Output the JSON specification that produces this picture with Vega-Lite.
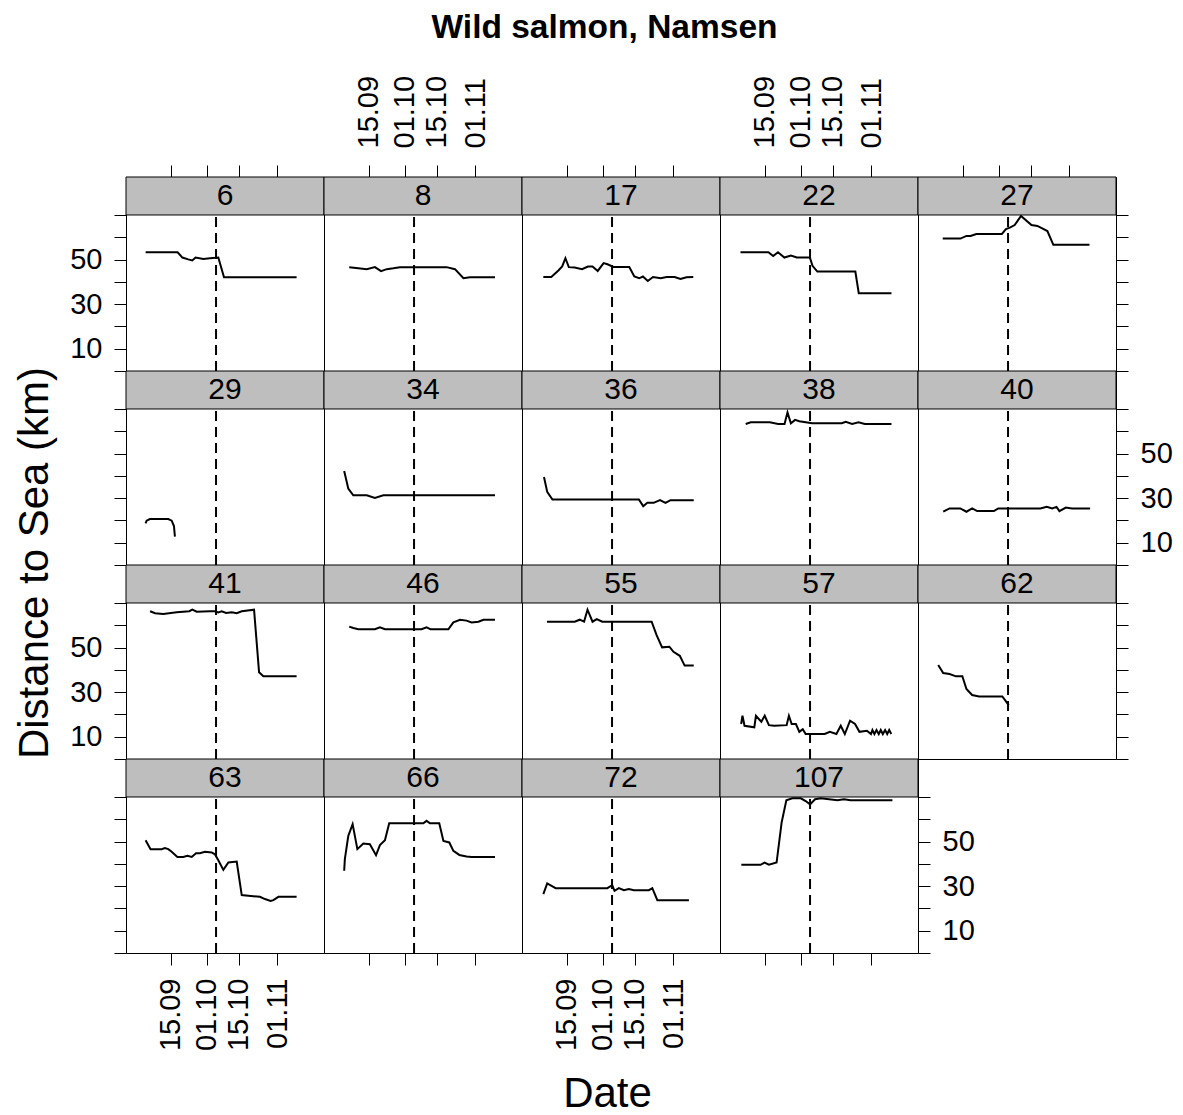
{
"$schema": "https://vega.github.io/schema/vega-lite/v6.json",
"background": "white",
"padding": {"left": 14, "top": 11, "right": 0, "bottom": 0},
"title": {"text": "Wild salmon, Namsen", "fontSize": 33.5, "fontWeight": "bold", "font": "Liberation Sans", "color": "black", "anchor": "middle", "offset": 29, "dx": 11},
"data": {"values": [
{"id":6,"t":"2009-09-04T01:00","v":53.3},{"id":6,"t":"2009-09-18T02:00","v":53.3},{"id":6,"t":"2009-09-20T05:00","v":50.9},{"id":6,"t":"2009-09-22T19:00","v":50.1},{"id":6,"t":"2009-09-24T14:00","v":49.6},{"id":6,"t":"2009-09-26T00:00","v":50.9},{"id":6,"t":"2009-09-29T10:00","v":50.3},{"id":6,"t":"2009-10-02T07:00","v":50.6},{"id":6,"t":"2009-10-06T00:00","v":50.9},{"id":6,"t":"2009-10-08T12:00","v":42.1},{"id":6,"t":"2009-11-09T10:00","v":42.1},
{"id":8,"t":"2009-09-06T12:00","v":46.6},{"id":8,"t":"2009-09-10T12:00","v":46.1},{"id":8,"t":"2009-09-14T05:00","v":45.7},{"id":8,"t":"2009-09-17T19:00","v":46.6},{"id":8,"t":"2009-09-20T12:00","v":44.8},{"id":8,"t":"2009-09-23T00:00","v":45.7},{"id":8,"t":"2009-09-25T22:00","v":46.1},{"id":8,"t":"2009-09-28T19:00","v":46.6},{"id":8,"t":"2009-10-13T12:00","v":46.6},{"id":8,"t":"2009-10-19T07:00","v":46.6},{"id":8,"t":"2009-10-23T00:00","v":45.7},{"id":8,"t":"2009-10-26T17:00","v":41.6},{"id":8,"t":"2009-10-29T14:00","v":42.1},{"id":8,"t":"2009-11-09T14:00","v":42.1},
{"id":17,"t":"2009-09-04T19:00","v":42.2},{"id":17,"t":"2009-09-08T07:00","v":42.2},{"id":17,"t":"2009-09-11T10:00","v":45.1},{"id":17,"t":"2009-09-13T02:00","v":46.9},{"id":17,"t":"2009-09-14T12:00","v":50.6},{"id":17,"t":"2009-09-16T00:00","v":46.6},{"id":17,"t":"2009-09-18T14:00","v":46.4},{"id":17,"t":"2009-09-21T19:00","v":45.7},{"id":17,"t":"2009-09-24T10:00","v":46.9},{"id":17,"t":"2009-09-26T10:00","v":46.9},{"id":17,"t":"2009-09-28T17:00","v":44.9},{"id":17,"t":"2009-10-01T07:00","v":48.4},{"id":17,"t":"2009-10-03T00:00","v":47.9},{"id":17,"t":"2009-10-05T14:00","v":46.7},{"id":17,"t":"2009-10-12T14:00","v":46.7},{"id":17,"t":"2009-10-14T19:00","v":42.4},{"id":17,"t":"2009-10-16T22:00","v":41.6},{"id":17,"t":"2009-10-18T14:00","v":42.4},{"id":17,"t":"2009-10-20T17:00","v":40.4},{"id":17,"t":"2009-10-23T00:00","v":42.2},{"id":17,"t":"2009-10-26T10:00","v":41.6},{"id":17,"t":"2009-10-29T00:00","v":42.2},{"id":17,"t":"2009-11-01T12:00","v":42.2},{"id":17,"t":"2009-11-04T02:00","v":41.3},{"id":17,"t":"2009-11-06T17:00","v":42.1},{"id":17,"t":"2009-11-09T17:00","v":42.2},
{"id":22,"t":"2009-09-04T10:00","v":53.3},{"id":22,"t":"2009-09-16T17:00","v":53.3},{"id":22,"t":"2009-09-18T19:00","v":51.6},{"id":22,"t":"2009-09-20T22:00","v":53.3},{"id":22,"t":"2009-09-23T17:00","v":50.9},{"id":22,"t":"2009-09-26T14:00","v":51.8},{"id":22,"t":"2009-09-29T05:00","v":50.9},{"id":22,"t":"2009-10-04T22:00","v":50.9},{"id":22,"t":"2009-10-06T02:00","v":47.2},{"id":22,"t":"2009-10-08T05:00","v":44.6},{"id":22,"t":"2009-10-24T22:00","v":44.6},{"id":22,"t":"2009-10-26T10:00","v":34.9},{"id":22,"t":"2009-11-09T19:00","v":34.9},
{"id":27,"t":"2009-09-06T07:00","v":59.4},{"id":27,"t":"2009-09-14T02:00","v":59.4},{"id":27,"t":"2009-09-16T17:00","v":60.6},{"id":27,"t":"2009-09-18T12:00","v":60.6},{"id":27,"t":"2009-09-21T02:00","v":61.5},{"id":27,"t":"2009-10-02T07:00","v":61.5},{"id":27,"t":"2009-10-04T02:00","v":63.7},{"id":27,"t":"2009-10-05T19:00","v":64.3},{"id":27,"t":"2009-10-07T22:00","v":65.5},{"id":27,"t":"2009-10-10T17:00","v":69.6},{"id":27,"t":"2009-10-15T07:00","v":65.5},{"id":27,"t":"2009-10-17T22:00","v":65.1},{"id":27,"t":"2009-10-22T07:00","v":62.8},{"id":27,"t":"2009-10-24T22:00","v":56.6},{"id":27,"t":"2009-11-09T19:00","v":56.6},
{"id":29,"t":"2009-09-04T00:00","v":18.7},{"id":29,"t":"2009-09-04T12:00","v":19.9},{"id":29,"t":"2009-09-05T22:00","v":20.6},{"id":29,"t":"2009-09-14T00:00","v":20.6},{"id":29,"t":"2009-09-15T12:00","v":19.9},{"id":29,"t":"2009-09-16T12:00","v":17.5},{"id":29,"t":"2009-09-16T22:00","v":12.7},
{"id":34,"t":"2009-09-04T07:00","v":42.2},{"id":34,"t":"2009-09-06T02:00","v":34.3},{"id":34,"t":"2009-09-08T07:00","v":31.3},{"id":34,"t":"2009-09-14T05:00","v":31.3},{"id":34,"t":"2009-09-17T19:00","v":30.1},{"id":34,"t":"2009-09-21T12:00","v":31.3},{"id":34,"t":"2009-11-09T14:00","v":31.3},
{"id":36,"t":"2009-09-05T02:00","v":39.5},{"id":36,"t":"2009-09-06T12:00","v":32.8},{"id":36,"t":"2009-09-08T19:00","v":29.4},{"id":36,"t":"2009-10-16T19:00","v":29.4},{"id":36,"t":"2009-10-18T17:00","v":26.4},{"id":36,"t":"2009-10-20T12:00","v":27.9},{"id":36,"t":"2009-10-23T07:00","v":27.9},{"id":36,"t":"2009-10-26T02:00","v":29.1},{"id":36,"t":"2009-10-28T12:00","v":27.9},{"id":36,"t":"2009-10-30T17:00","v":29.1},{"id":36,"t":"2009-11-09T22:00","v":29.1},
{"id":38,"t":"2009-09-06T17:00","v":63.3},{"id":38,"t":"2009-09-08T22:00","v":64},{"id":38,"t":"2009-09-17T07:00","v":64},{"id":38,"t":"2009-09-21T00:00","v":63.3},{"id":38,"t":"2009-09-23T19:00","v":63.3},{"id":38,"t":"2009-09-25T02:00","v":68.5},{"id":38,"t":"2009-09-26T14:00","v":63.6},{"id":38,"t":"2009-09-28T10:00","v":65.1},{"id":38,"t":"2009-09-30T07:00","v":64.5},{"id":38,"t":"2009-10-05T22:00","v":63.6},{"id":38,"t":"2009-10-18T22:00","v":63.6},{"id":38,"t":"2009-10-20T17:00","v":64.3},{"id":38,"t":"2009-10-23T12:00","v":63.3},{"id":38,"t":"2009-10-26T07:00","v":64},{"id":38,"t":"2009-10-29T02:00","v":63.3},{"id":38,"t":"2009-11-09T19:00","v":63.3},
{"id":40,"t":"2009-09-06T12:00","v":23.9},{"id":40,"t":"2009-09-09T07:00","v":25.4},{"id":40,"t":"2009-09-14T00:00","v":25.4},{"id":40,"t":"2009-09-16T17:00","v":23.9},{"id":40,"t":"2009-09-19T05:00","v":25.4},{"id":40,"t":"2009-09-21T10:00","v":24.2},{"id":40,"t":"2009-09-28T19:00","v":24.2},{"id":40,"t":"2009-09-30T17:00","v":25.4},{"id":40,"t":"2009-10-19T05:00","v":25.4},{"id":40,"t":"2009-10-22T00:00","v":26.1},{"id":40,"t":"2009-10-24T10:00","v":25.4},{"id":40,"t":"2009-10-26T07:00","v":26.1},{"id":40,"t":"2009-10-27T14:00","v":24.2},{"id":40,"t":"2009-10-30T10:00","v":25.8},{"id":40,"t":"2009-11-02T02:00","v":25.4},{"id":40,"t":"2009-11-10T02:00","v":25.4},
{"id":41,"t":"2009-09-06T00:00","v":66.3},{"id":41,"t":"2009-09-08T05:00","v":65.4},{"id":41,"t":"2009-09-11T19:00","v":65.1},{"id":41,"t":"2009-09-17T17:00","v":65.8},{"id":41,"t":"2009-09-23T05:00","v":66.3},{"id":41,"t":"2009-09-24T14:00","v":67},{"id":41,"t":"2009-09-26T12:00","v":66.1},{"id":41,"t":"2009-10-02T07:00","v":66.3},{"id":41,"t":"2009-10-04T12:00","v":66.3},{"id":41,"t":"2009-10-06T00:00","v":65.8},{"id":41,"t":"2009-10-07T12:00","v":66.3},{"id":41,"t":"2009-10-09T10:00","v":65.5},{"id":41,"t":"2009-10-11T22:00","v":65.8},{"id":41,"t":"2009-10-14T02:00","v":65.4},{"id":41,"t":"2009-10-16T07:00","v":66.3},{"id":41,"t":"2009-10-21T17:00","v":67},{"id":41,"t":"2009-10-23T22:00","v":38.9},{"id":41,"t":"2009-10-25T19:00","v":37.1},{"id":41,"t":"2009-11-09T10:00","v":37.1},
{"id":46,"t":"2009-09-06T12:00","v":59.4},{"id":46,"t":"2009-09-08T07:00","v":58.8},{"id":46,"t":"2009-09-10T12:00","v":58.2},{"id":46,"t":"2009-09-17T19:00","v":58.2},{"id":46,"t":"2009-09-20T00:00","v":59.1},{"id":46,"t":"2009-09-22T05:00","v":58.2},{"id":46,"t":"2009-10-08T07:00","v":58.2},{"id":46,"t":"2009-10-10T12:00","v":59.1},{"id":46,"t":"2009-10-12T07:00","v":58.2},{"id":46,"t":"2009-10-20T02:00","v":58.2},{"id":46,"t":"2009-10-22T07:00","v":61.3},{"id":46,"t":"2009-10-25T05:00","v":62.5},{"id":46,"t":"2009-10-28T02:00","v":62.1},{"id":46,"t":"2009-10-30T07:00","v":61.3},{"id":46,"t":"2009-11-02T07:00","v":61.6},{"id":46,"t":"2009-11-04T12:00","v":62.5},{"id":46,"t":"2009-11-09T14:00","v":62.5},
{"id":55,"t":"2009-09-06T10:00","v":61.6},{"id":55,"t":"2009-09-18T14:00","v":61.6},{"id":55,"t":"2009-09-20T19:00","v":62.5},{"id":55,"t":"2009-09-22T17:00","v":61.6},{"id":55,"t":"2009-09-24T05:00","v":67},{"id":55,"t":"2009-09-26T10:00","v":61.6},{"id":55,"t":"2009-09-28T07:00","v":62.8},{"id":55,"t":"2009-09-30T17:00","v":61.6},{"id":55,"t":"2009-10-22T10:00","v":61.6},{"id":55,"t":"2009-10-24T14:00","v":55.6},{"id":55,"t":"2009-10-27T00:00","v":50.1},{"id":55,"t":"2009-10-30T05:00","v":50.4},{"id":55,"t":"2009-11-01T00:00","v":48.1},{"id":55,"t":"2009-11-03T19:00","v":46.3},{"id":55,"t":"2009-11-05T22:00","v":41.9},{"id":55,"t":"2009-11-09T22:00","v":41.9},
{"id":57,"t":"2009-09-04T17:00","v":15.7},{"id":57,"t":"2009-09-05T07:00","v":19.4},{"id":57,"t":"2009-09-06T05:00","v":14.9},{"id":57,"t":"2009-09-10T12:00","v":14.2},{"id":57,"t":"2009-09-11T05:00","v":19.4},{"id":57,"t":"2009-09-13T14:00","v":16.7},{"id":57,"t":"2009-09-15T02:00","v":19.4},{"id":57,"t":"2009-09-16T22:00","v":15.2},{"id":57,"t":"2009-09-19T05:00","v":14.9},{"id":57,"t":"2009-09-24T17:00","v":15.2},{"id":57,"t":"2009-09-25T17:00","v":19.4},{"id":57,"t":"2009-09-26T22:00","v":15.7},{"id":57,"t":"2009-09-28T19:00","v":15.7},{"id":57,"t":"2009-09-30T07:00","v":12.2},{"id":57,"t":"2009-10-01T19:00","v":13.4},{"id":57,"t":"2009-10-03T02:00","v":11.2},{"id":57,"t":"2009-10-11T10:00","v":11.2},{"id":57,"t":"2009-10-13T17:00","v":12.2},{"id":57,"t":"2009-10-16T14:00","v":11.2},{"id":57,"t":"2009-10-18T12:00","v":14.9},{"id":57,"t":"2009-10-20T07:00","v":11.2},{"id":57,"t":"2009-10-22T14:00","v":17.2},{"id":57,"t":"2009-10-24T19:00","v":15.7},{"id":57,"t":"2009-10-26T17:00","v":12.2},{"id":57,"t":"2009-10-30T00:00","v":12.7},{"id":57,"t":"2009-10-31T19:00","v":11.2},{"id":57,"t":"2009-11-01T10:00","v":13},{"id":57,"t":"2009-11-02T07:00","v":11.2},{"id":57,"t":"2009-11-03T05:00","v":13},{"id":57,"t":"2009-11-04T05:00","v":11.2},{"id":57,"t":"2009-11-05T02:00","v":13},{"id":57,"t":"2009-11-06T00:00","v":11.2},{"id":57,"t":"2009-11-07T00:00","v":13},{"id":57,"t":"2009-11-07T22:00","v":11.2},{"id":57,"t":"2009-11-08T19:00","v":13},{"id":57,"t":"2009-11-09T17:00","v":11.2},
{"id":62,"t":"2009-09-04T07:00","v":42.2},{"id":62,"t":"2009-09-06T12:00","v":38.6},{"id":62,"t":"2009-09-09T07:00","v":38.1},{"id":62,"t":"2009-09-12T02:00","v":37.1},{"id":62,"t":"2009-09-14T22:00","v":37.1},{"id":62,"t":"2009-09-16T17:00","v":31.4},{"id":62,"t":"2009-09-19T05:00","v":28.7},{"id":62,"t":"2009-09-22T07:00","v":28.1},{"id":62,"t":"2009-10-02T12:00","v":28.1},{"id":62,"t":"2009-10-05T07:00","v":24.2},
{"id":63,"t":"2009-09-04T01:00","v":50.6},{"id":63,"t":"2009-09-06T05:00","v":46.6},{"id":63,"t":"2009-09-11T02:00","v":46.6},{"id":63,"t":"2009-09-12T12:00","v":47.1},{"id":63,"t":"2009-09-14T00:00","v":46.6},{"id":63,"t":"2009-09-15T12:00","v":45.4},{"id":63,"t":"2009-09-18T00:00","v":43.1},{"id":63,"t":"2009-09-20T14:00","v":43.1},{"id":63,"t":"2009-09-22T10:00","v":43.6},{"id":63,"t":"2009-09-24T07:00","v":43.1},{"id":63,"t":"2009-09-26T05:00","v":44.8},{"id":63,"t":"2009-09-27T22:00","v":44.8},{"id":63,"t":"2009-09-30T02:00","v":45.4},{"id":63,"t":"2009-10-03T02:00","v":45.1},{"id":63,"t":"2009-10-04T12:00","v":44.3},{"id":63,"t":"2009-10-06T00:00","v":41.6},{"id":63,"t":"2009-10-08T05:00","v":37.3},{"id":63,"t":"2009-10-10T10:00","v":40.6},{"id":63,"t":"2009-10-14T02:00","v":41},{"id":63,"t":"2009-10-16T07:00","v":26},{"id":63,"t":"2009-10-19T05:00","v":25.7},{"id":63,"t":"2009-10-24T07:00","v":25.2},{"id":63,"t":"2009-10-26T12:00","v":24.2},{"id":63,"t":"2009-10-29T00:00","v":23.4},{"id":63,"t":"2009-10-30T05:00","v":23.7},{"id":63,"t":"2009-11-01T10:00","v":25.2},{"id":63,"t":"2009-11-09T10:00","v":25.2},
{"id":66,"t":"2009-09-04T07:00","v":36.9},{"id":66,"t":"2009-09-04T14:00","v":42.1},{"id":66,"t":"2009-09-06T02:00","v":52.5},{"id":66,"t":"2009-09-08T00:00","v":57.8},{"id":66,"t":"2009-09-10T02:00","v":46.6},{"id":66,"t":"2009-09-12T17:00","v":49.1},{"id":66,"t":"2009-09-15T14:00","v":48.8},{"id":66,"t":"2009-09-18T07:00","v":43.9},{"id":66,"t":"2009-09-20T00:00","v":48.4},{"id":66,"t":"2009-09-22T05:00","v":50.6},{"id":66,"t":"2009-09-24T02:00","v":58.2},{"id":66,"t":"2009-10-09T02:00","v":58.2},{"id":66,"t":"2009-10-10T12:00","v":59.3},{"id":66,"t":"2009-10-12T00:00","v":58.2},{"id":66,"t":"2009-10-16T02:00","v":58.2},{"id":66,"t":"2009-10-17T22:00","v":50.3},{"id":66,"t":"2009-10-20T12:00","v":49.6},{"id":66,"t":"2009-10-22T07:00","v":45.8},{"id":66,"t":"2009-10-24T22:00","v":44},{"id":66,"t":"2009-10-28T02:00","v":43.3},{"id":66,"t":"2009-10-30T07:00","v":43.1},{"id":66,"t":"2009-11-09T14:00","v":43.1},
{"id":72,"t":"2009-09-04T19:00","v":26.4},{"id":72,"t":"2009-09-06T12:00","v":31.2},{"id":72,"t":"2009-09-10T05:00","v":29.1},{"id":72,"t":"2009-10-02T22:00","v":29.1},{"id":72,"t":"2009-10-05T02:00","v":30.4},{"id":72,"t":"2009-10-06T02:00","v":27.9},{"id":72,"t":"2009-10-08T00:00","v":29.1},{"id":72,"t":"2009-10-10T05:00","v":28.2},{"id":72,"t":"2009-10-12T10:00","v":28.7},{"id":72,"t":"2009-10-14T14:00","v":28.2},{"id":72,"t":"2009-10-21T05:00","v":28.2},{"id":72,"t":"2009-10-22T17:00","v":29.1},{"id":72,"t":"2009-10-24T22:00","v":23.7},{"id":72,"t":"2009-11-07T19:00","v":23.7},
{"id":107,"t":"2009-09-04T19:00","v":39.6},{"id":107,"t":"2009-09-13T07:00","v":39.6},{"id":107,"t":"2009-09-15T00:00","v":40.6},{"id":107,"t":"2009-09-16T22:00","v":39.6},{"id":107,"t":"2009-09-20T07:00","v":40.6},{"id":107,"t":"2009-09-22T12:00","v":58.5},{"id":107,"t":"2009-09-24T14:00","v":68.5},{"id":107,"t":"2009-09-27T05:00","v":69.4},{"id":107,"t":"2009-09-30T22:00","v":69.4},{"id":107,"t":"2009-10-03T02:00","v":68.2},{"id":107,"t":"2009-10-05T00:00","v":66.7},{"id":107,"t":"2009-10-07T05:00","v":69},{"id":107,"t":"2009-10-09T17:00","v":69.4},{"id":107,"t":"2009-10-17T00:00","v":68.5},{"id":107,"t":"2009-10-19T22:00","v":69},{"id":107,"t":"2009-10-22T19:00","v":68.5},{"id":107,"t":"2009-11-10T05:00","v":68.5}
]},
"vconcat": [{
 "title": {"text": "Date", "orient": "bottom", "fontSize": 42, "fontWeight": "normal", "font": "Liberation Sans", "color": "black", "anchor": "middle", "offset": 23, "dx": 14},
 "bounds": "flush",
 "vconcat": [{
  "title": {"text": "Distance to Sea (km)", "orient": "left", "fontSize": 42, "fontWeight": "normal", "font": "Liberation Sans", "color": "black", "anchor": "middle", "offset": 12},
  "columns": 5, "spacing": 0, "bounds": "flush",
  "concat": [
   {"width":198,"height":194,"resolve":{"axis":{"x":"independent","y":"independent"}},"layer":[
    {"data":{"values":[{}]},"mark":{"type":"rect","fill":"#bebebe","stroke":"black","strokeWidth":1},"encoding":{"y":{"datum":70,"type":"quantitative","scale":{"domain":[0,87.05],"nice":false,"zero":false},"axis":null},"y2":{"datum":87.05}}},
    {"data":{"values":[{}]},"mark":{"type":"text","font":"Liberation Sans","fontSize":30,"color":"black"},"encoding":{"y":{"datum":78.5,"type":"quantitative","scale":{"domain":[0,87.05],"nice":false,"zero":false},"axis":null},"text":{"value":"6"}}},
    {"data":{"values":[{}]},"mark":{"type":"rule","color":"black","strokeWidth":2,"strokeDash":[10,6]},"encoding":{"x":{"datum":{"year":2009,"month":10,"date":5},"type":"temporal","scale":{"domain":[{"year":2009,"month":8,"date":26,"hours":10},{"year":2009,"month":11,"date":21,"hours":11}]},"axis":null},"y":{"datum":0,"type":"quantitative","scale":{"domain":[0,87.05],"nice":false,"zero":false},"axis":null},"y2":{"datum":70}}},
    {"transform":[{"filter":"datum.id == 6"}],"mark":{"type":"line","color":"black","strokeWidth":2},"encoding":{"x":{"field":"t","type":"temporal","scale":{"domain":[{"year":2009,"month":8,"date":26,"hours":10},{"year":2009,"month":11,"date":21,"hours":11}]},"axis":{"orient":"top","labels":false,"title":null,"values":[{"year":2009,"month":9,"date":15},{"year":2009,"month":10,"date":1},{"year":2009,"month":10,"date":15},{"year":2009,"month":11,"date":1}]}},"y":{"field":"v","type":"quantitative","scale":{"domain":[0,87.05],"nice":false,"zero":false},"axis":{"orient":"left","title":null,"values":[0,10,20,30,40,50,60,70],"labelExpr":"datum.value == 10 || datum.value == 30 || datum.value == 50 ? datum.label : ''"}}}}
   ]},
   {"width":198,"height":194,"resolve":{"axis":{"x":"independent","y":"independent"}},"layer":[
    {"data":{"values":[{}]},"mark":{"type":"rect","fill":"#bebebe","stroke":"black","strokeWidth":1},"encoding":{"y":{"datum":70,"type":"quantitative","scale":{"domain":[0,87.05],"nice":false,"zero":false},"axis":null},"y2":{"datum":87.05}}},
    {"data":{"values":[{}]},"mark":{"type":"text","font":"Liberation Sans","fontSize":30,"color":"black"},"encoding":{"y":{"datum":78.5,"type":"quantitative","scale":{"domain":[0,87.05],"nice":false,"zero":false},"axis":null},"text":{"value":"8"}}},
    {"data":{"values":[{}]},"mark":{"type":"rule","color":"black","strokeWidth":2,"strokeDash":[10,6]},"encoding":{"x":{"datum":{"year":2009,"month":10,"date":5},"type":"temporal","scale":{"domain":[{"year":2009,"month":8,"date":26,"hours":10},{"year":2009,"month":11,"date":21,"hours":11}]},"axis":null},"y":{"datum":0,"type":"quantitative","scale":{"domain":[0,87.05],"nice":false,"zero":false},"axis":null},"y2":{"datum":70}}},
    {"transform":[{"filter":"datum.id == 8"}],"mark":{"type":"line","color":"black","strokeWidth":2},"encoding":{"x":{"field":"t","type":"temporal","scale":{"domain":[{"year":2009,"month":8,"date":26,"hours":10},{"year":2009,"month":11,"date":21,"hours":11}]},"axis":{"orient":"top","labelAngle":-90,"labelPadding":17,"format":"%d.%m","title":null,"values":[{"year":2009,"month":9,"date":15},{"year":2009,"month":10,"date":1},{"year":2009,"month":10,"date":15},{"year":2009,"month":11,"date":1}]}},"y":{"field":"v","type":"quantitative","scale":{"domain":[0,87.05],"nice":false,"zero":false},"axis":null}}}
   ]},
   {"width":198,"height":194,"resolve":{"axis":{"x":"independent","y":"independent"}},"layer":[
    {"data":{"values":[{}]},"mark":{"type":"rect","fill":"#bebebe","stroke":"black","strokeWidth":1},"encoding":{"y":{"datum":70,"type":"quantitative","scale":{"domain":[0,87.05],"nice":false,"zero":false},"axis":null},"y2":{"datum":87.05}}},
    {"data":{"values":[{}]},"mark":{"type":"text","font":"Liberation Sans","fontSize":30,"color":"black"},"encoding":{"y":{"datum":78.5,"type":"quantitative","scale":{"domain":[0,87.05],"nice":false,"zero":false},"axis":null},"text":{"value":"17"}}},
    {"data":{"values":[{}]},"mark":{"type":"rule","color":"black","strokeWidth":2,"strokeDash":[10,6]},"encoding":{"x":{"datum":{"year":2009,"month":10,"date":5},"type":"temporal","scale":{"domain":[{"year":2009,"month":8,"date":26,"hours":10},{"year":2009,"month":11,"date":21,"hours":11}]},"axis":null},"y":{"datum":0,"type":"quantitative","scale":{"domain":[0,87.05],"nice":false,"zero":false},"axis":null},"y2":{"datum":70}}},
    {"transform":[{"filter":"datum.id == 17"}],"mark":{"type":"line","color":"black","strokeWidth":2},"encoding":{"x":{"field":"t","type":"temporal","scale":{"domain":[{"year":2009,"month":8,"date":26,"hours":10},{"year":2009,"month":11,"date":21,"hours":11}]},"axis":{"orient":"top","labels":false,"title":null,"values":[{"year":2009,"month":9,"date":15},{"year":2009,"month":10,"date":1},{"year":2009,"month":10,"date":15},{"year":2009,"month":11,"date":1}]}},"y":{"field":"v","type":"quantitative","scale":{"domain":[0,87.05],"nice":false,"zero":false},"axis":null}}}
   ]},
   {"width":198,"height":194,"resolve":{"axis":{"x":"independent","y":"independent"}},"layer":[
    {"data":{"values":[{}]},"mark":{"type":"rect","fill":"#bebebe","stroke":"black","strokeWidth":1},"encoding":{"y":{"datum":70,"type":"quantitative","scale":{"domain":[0,87.05],"nice":false,"zero":false},"axis":null},"y2":{"datum":87.05}}},
    {"data":{"values":[{}]},"mark":{"type":"text","font":"Liberation Sans","fontSize":30,"color":"black"},"encoding":{"y":{"datum":78.5,"type":"quantitative","scale":{"domain":[0,87.05],"nice":false,"zero":false},"axis":null},"text":{"value":"22"}}},
    {"data":{"values":[{}]},"mark":{"type":"rule","color":"black","strokeWidth":2,"strokeDash":[10,6]},"encoding":{"x":{"datum":{"year":2009,"month":10,"date":5},"type":"temporal","scale":{"domain":[{"year":2009,"month":8,"date":26,"hours":10},{"year":2009,"month":11,"date":21,"hours":11}]},"axis":null},"y":{"datum":0,"type":"quantitative","scale":{"domain":[0,87.05],"nice":false,"zero":false},"axis":null},"y2":{"datum":70}}},
    {"transform":[{"filter":"datum.id == 22"}],"mark":{"type":"line","color":"black","strokeWidth":2},"encoding":{"x":{"field":"t","type":"temporal","scale":{"domain":[{"year":2009,"month":8,"date":26,"hours":10},{"year":2009,"month":11,"date":21,"hours":11}]},"axis":{"orient":"top","labelAngle":-90,"labelPadding":17,"format":"%d.%m","title":null,"values":[{"year":2009,"month":9,"date":15},{"year":2009,"month":10,"date":1},{"year":2009,"month":10,"date":15},{"year":2009,"month":11,"date":1}]}},"y":{"field":"v","type":"quantitative","scale":{"domain":[0,87.05],"nice":false,"zero":false},"axis":null}}}
   ]},
   {"width":198,"height":194,"resolve":{"axis":{"x":"independent","y":"independent"}},"layer":[
    {"data":{"values":[{}]},"mark":{"type":"rect","fill":"#bebebe","stroke":"black","strokeWidth":1},"encoding":{"y":{"datum":70,"type":"quantitative","scale":{"domain":[0,87.05],"nice":false,"zero":false},"axis":null},"y2":{"datum":87.05}}},
    {"data":{"values":[{}]},"mark":{"type":"text","font":"Liberation Sans","fontSize":30,"color":"black"},"encoding":{"y":{"datum":78.5,"type":"quantitative","scale":{"domain":[0,87.05],"nice":false,"zero":false},"axis":null},"text":{"value":"27"}}},
    {"data":{"values":[{}]},"mark":{"type":"rule","color":"black","strokeWidth":2,"strokeDash":[10,6]},"encoding":{"x":{"datum":{"year":2009,"month":10,"date":5},"type":"temporal","scale":{"domain":[{"year":2009,"month":8,"date":26,"hours":10},{"year":2009,"month":11,"date":21,"hours":11}]},"axis":null},"y":{"datum":0,"type":"quantitative","scale":{"domain":[0,87.05],"nice":false,"zero":false},"axis":null},"y2":{"datum":70}}},
    {"transform":[{"filter":"datum.id == 27"}],"mark":{"type":"line","color":"black","strokeWidth":2},"encoding":{"x":{"field":"t","type":"temporal","scale":{"domain":[{"year":2009,"month":8,"date":26,"hours":10},{"year":2009,"month":11,"date":21,"hours":11}]},"axis":{"orient":"top","labels":false,"title":null,"values":[{"year":2009,"month":9,"date":15},{"year":2009,"month":10,"date":1},{"year":2009,"month":10,"date":15},{"year":2009,"month":11,"date":1}]}},"y":{"field":"v","type":"quantitative","scale":{"domain":[0,87.05],"nice":false,"zero":false},"axis":{"orient":"right","labels":false,"title":null,"values":[0,10,20,30,40,50,60,70]}}}}
   ]},
   {"width":198,"height":194,"resolve":{"axis":{"x":"independent","y":"independent"}},"layer":[
    {"data":{"values":[{}]},"mark":{"type":"rect","fill":"#bebebe","stroke":"black","strokeWidth":1},"encoding":{"y":{"datum":70,"type":"quantitative","scale":{"domain":[0,87.05],"nice":false,"zero":false},"axis":null},"y2":{"datum":87.05}}},
    {"data":{"values":[{}]},"mark":{"type":"text","font":"Liberation Sans","fontSize":30,"color":"black"},"encoding":{"y":{"datum":78.5,"type":"quantitative","scale":{"domain":[0,87.05],"nice":false,"zero":false},"axis":null},"text":{"value":"29"}}},
    {"data":{"values":[{}]},"mark":{"type":"rule","color":"black","strokeWidth":2,"strokeDash":[10,6]},"encoding":{"x":{"datum":{"year":2009,"month":10,"date":5},"type":"temporal","scale":{"domain":[{"year":2009,"month":8,"date":26,"hours":10},{"year":2009,"month":11,"date":21,"hours":11}]},"axis":null},"y":{"datum":0,"type":"quantitative","scale":{"domain":[0,87.05],"nice":false,"zero":false},"axis":null},"y2":{"datum":70}}},
    {"transform":[{"filter":"datum.id == 29"}],"mark":{"type":"line","color":"black","strokeWidth":2},"encoding":{"x":{"field":"t","type":"temporal","scale":{"domain":[{"year":2009,"month":8,"date":26,"hours":10},{"year":2009,"month":11,"date":21,"hours":11}]},"axis":null},"y":{"field":"v","type":"quantitative","scale":{"domain":[0,87.05],"nice":false,"zero":false},"axis":{"orient":"left","labels":false,"title":null,"values":[0,10,20,30,40,50,60,70]}}}}
   ]},
   {"width":198,"height":194,"resolve":{"axis":{"x":"independent","y":"independent"}},"layer":[
    {"data":{"values":[{}]},"mark":{"type":"rect","fill":"#bebebe","stroke":"black","strokeWidth":1},"encoding":{"y":{"datum":70,"type":"quantitative","scale":{"domain":[0,87.05],"nice":false,"zero":false},"axis":null},"y2":{"datum":87.05}}},
    {"data":{"values":[{}]},"mark":{"type":"text","font":"Liberation Sans","fontSize":30,"color":"black"},"encoding":{"y":{"datum":78.5,"type":"quantitative","scale":{"domain":[0,87.05],"nice":false,"zero":false},"axis":null},"text":{"value":"34"}}},
    {"data":{"values":[{}]},"mark":{"type":"rule","color":"black","strokeWidth":2,"strokeDash":[10,6]},"encoding":{"x":{"datum":{"year":2009,"month":10,"date":5},"type":"temporal","scale":{"domain":[{"year":2009,"month":8,"date":26,"hours":10},{"year":2009,"month":11,"date":21,"hours":11}]},"axis":null},"y":{"datum":0,"type":"quantitative","scale":{"domain":[0,87.05],"nice":false,"zero":false},"axis":null},"y2":{"datum":70}}},
    {"transform":[{"filter":"datum.id == 34"}],"mark":{"type":"line","color":"black","strokeWidth":2},"encoding":{"x":{"field":"t","type":"temporal","scale":{"domain":[{"year":2009,"month":8,"date":26,"hours":10},{"year":2009,"month":11,"date":21,"hours":11}]},"axis":null},"y":{"field":"v","type":"quantitative","scale":{"domain":[0,87.05],"nice":false,"zero":false},"axis":null}}}
   ]},
   {"width":198,"height":194,"resolve":{"axis":{"x":"independent","y":"independent"}},"layer":[
    {"data":{"values":[{}]},"mark":{"type":"rect","fill":"#bebebe","stroke":"black","strokeWidth":1},"encoding":{"y":{"datum":70,"type":"quantitative","scale":{"domain":[0,87.05],"nice":false,"zero":false},"axis":null},"y2":{"datum":87.05}}},
    {"data":{"values":[{}]},"mark":{"type":"text","font":"Liberation Sans","fontSize":30,"color":"black"},"encoding":{"y":{"datum":78.5,"type":"quantitative","scale":{"domain":[0,87.05],"nice":false,"zero":false},"axis":null},"text":{"value":"36"}}},
    {"data":{"values":[{}]},"mark":{"type":"rule","color":"black","strokeWidth":2,"strokeDash":[10,6]},"encoding":{"x":{"datum":{"year":2009,"month":10,"date":5},"type":"temporal","scale":{"domain":[{"year":2009,"month":8,"date":26,"hours":10},{"year":2009,"month":11,"date":21,"hours":11}]},"axis":null},"y":{"datum":0,"type":"quantitative","scale":{"domain":[0,87.05],"nice":false,"zero":false},"axis":null},"y2":{"datum":70}}},
    {"transform":[{"filter":"datum.id == 36"}],"mark":{"type":"line","color":"black","strokeWidth":2},"encoding":{"x":{"field":"t","type":"temporal","scale":{"domain":[{"year":2009,"month":8,"date":26,"hours":10},{"year":2009,"month":11,"date":21,"hours":11}]},"axis":null},"y":{"field":"v","type":"quantitative","scale":{"domain":[0,87.05],"nice":false,"zero":false},"axis":null}}}
   ]},
   {"width":198,"height":194,"resolve":{"axis":{"x":"independent","y":"independent"}},"layer":[
    {"data":{"values":[{}]},"mark":{"type":"rect","fill":"#bebebe","stroke":"black","strokeWidth":1},"encoding":{"y":{"datum":70,"type":"quantitative","scale":{"domain":[0,87.05],"nice":false,"zero":false},"axis":null},"y2":{"datum":87.05}}},
    {"data":{"values":[{}]},"mark":{"type":"text","font":"Liberation Sans","fontSize":30,"color":"black"},"encoding":{"y":{"datum":78.5,"type":"quantitative","scale":{"domain":[0,87.05],"nice":false,"zero":false},"axis":null},"text":{"value":"38"}}},
    {"data":{"values":[{}]},"mark":{"type":"rule","color":"black","strokeWidth":2,"strokeDash":[10,6]},"encoding":{"x":{"datum":{"year":2009,"month":10,"date":5},"type":"temporal","scale":{"domain":[{"year":2009,"month":8,"date":26,"hours":10},{"year":2009,"month":11,"date":21,"hours":11}]},"axis":null},"y":{"datum":0,"type":"quantitative","scale":{"domain":[0,87.05],"nice":false,"zero":false},"axis":null},"y2":{"datum":70}}},
    {"transform":[{"filter":"datum.id == 38"}],"mark":{"type":"line","color":"black","strokeWidth":2},"encoding":{"x":{"field":"t","type":"temporal","scale":{"domain":[{"year":2009,"month":8,"date":26,"hours":10},{"year":2009,"month":11,"date":21,"hours":11}]},"axis":null},"y":{"field":"v","type":"quantitative","scale":{"domain":[0,87.05],"nice":false,"zero":false},"axis":null}}}
   ]},
   {"width":198,"height":194,"resolve":{"axis":{"x":"independent","y":"independent"}},"layer":[
    {"data":{"values":[{}]},"mark":{"type":"rect","fill":"#bebebe","stroke":"black","strokeWidth":1},"encoding":{"y":{"datum":70,"type":"quantitative","scale":{"domain":[0,87.05],"nice":false,"zero":false},"axis":null},"y2":{"datum":87.05}}},
    {"data":{"values":[{}]},"mark":{"type":"text","font":"Liberation Sans","fontSize":30,"color":"black"},"encoding":{"y":{"datum":78.5,"type":"quantitative","scale":{"domain":[0,87.05],"nice":false,"zero":false},"axis":null},"text":{"value":"40"}}},
    {"data":{"values":[{}]},"mark":{"type":"rule","color":"black","strokeWidth":2,"strokeDash":[10,6]},"encoding":{"x":{"datum":{"year":2009,"month":10,"date":5},"type":"temporal","scale":{"domain":[{"year":2009,"month":8,"date":26,"hours":10},{"year":2009,"month":11,"date":21,"hours":11}]},"axis":null},"y":{"datum":0,"type":"quantitative","scale":{"domain":[0,87.05],"nice":false,"zero":false},"axis":null},"y2":{"datum":70}}},
    {"transform":[{"filter":"datum.id == 40"}],"mark":{"type":"line","color":"black","strokeWidth":2},"encoding":{"x":{"field":"t","type":"temporal","scale":{"domain":[{"year":2009,"month":8,"date":26,"hours":10},{"year":2009,"month":11,"date":21,"hours":11}]},"axis":null},"y":{"field":"v","type":"quantitative","scale":{"domain":[0,87.05],"nice":false,"zero":false},"axis":{"orient":"right","title":null,"values":[0,10,20,30,40,50,60,70],"labelExpr":"datum.value == 10 || datum.value == 30 || datum.value == 50 ? datum.label : ''"}}}}
   ]},
   {"width":198,"height":194,"resolve":{"axis":{"x":"independent","y":"independent"}},"layer":[
    {"data":{"values":[{}]},"mark":{"type":"rect","fill":"#bebebe","stroke":"black","strokeWidth":1},"encoding":{"y":{"datum":70,"type":"quantitative","scale":{"domain":[0,87.05],"nice":false,"zero":false},"axis":null},"y2":{"datum":87.05}}},
    {"data":{"values":[{}]},"mark":{"type":"text","font":"Liberation Sans","fontSize":30,"color":"black"},"encoding":{"y":{"datum":78.5,"type":"quantitative","scale":{"domain":[0,87.05],"nice":false,"zero":false},"axis":null},"text":{"value":"41"}}},
    {"data":{"values":[{}]},"mark":{"type":"rule","color":"black","strokeWidth":2,"strokeDash":[10,6]},"encoding":{"x":{"datum":{"year":2009,"month":10,"date":5},"type":"temporal","scale":{"domain":[{"year":2009,"month":8,"date":26,"hours":10},{"year":2009,"month":11,"date":21,"hours":11}]},"axis":null},"y":{"datum":0,"type":"quantitative","scale":{"domain":[0,87.05],"nice":false,"zero":false},"axis":null},"y2":{"datum":70}}},
    {"transform":[{"filter":"datum.id == 41"}],"mark":{"type":"line","color":"black","strokeWidth":2},"encoding":{"x":{"field":"t","type":"temporal","scale":{"domain":[{"year":2009,"month":8,"date":26,"hours":10},{"year":2009,"month":11,"date":21,"hours":11}]},"axis":null},"y":{"field":"v","type":"quantitative","scale":{"domain":[0,87.05],"nice":false,"zero":false},"axis":{"orient":"left","title":null,"values":[0,10,20,30,40,50,60,70],"labelExpr":"datum.value == 10 || datum.value == 30 || datum.value == 50 ? datum.label : ''"}}}}
   ]},
   {"width":198,"height":194,"resolve":{"axis":{"x":"independent","y":"independent"}},"layer":[
    {"data":{"values":[{}]},"mark":{"type":"rect","fill":"#bebebe","stroke":"black","strokeWidth":1},"encoding":{"y":{"datum":70,"type":"quantitative","scale":{"domain":[0,87.05],"nice":false,"zero":false},"axis":null},"y2":{"datum":87.05}}},
    {"data":{"values":[{}]},"mark":{"type":"text","font":"Liberation Sans","fontSize":30,"color":"black"},"encoding":{"y":{"datum":78.5,"type":"quantitative","scale":{"domain":[0,87.05],"nice":false,"zero":false},"axis":null},"text":{"value":"46"}}},
    {"data":{"values":[{}]},"mark":{"type":"rule","color":"black","strokeWidth":2,"strokeDash":[10,6]},"encoding":{"x":{"datum":{"year":2009,"month":10,"date":5},"type":"temporal","scale":{"domain":[{"year":2009,"month":8,"date":26,"hours":10},{"year":2009,"month":11,"date":21,"hours":11}]},"axis":null},"y":{"datum":0,"type":"quantitative","scale":{"domain":[0,87.05],"nice":false,"zero":false},"axis":null},"y2":{"datum":70}}},
    {"transform":[{"filter":"datum.id == 46"}],"mark":{"type":"line","color":"black","strokeWidth":2},"encoding":{"x":{"field":"t","type":"temporal","scale":{"domain":[{"year":2009,"month":8,"date":26,"hours":10},{"year":2009,"month":11,"date":21,"hours":11}]},"axis":null},"y":{"field":"v","type":"quantitative","scale":{"domain":[0,87.05],"nice":false,"zero":false},"axis":null}}}
   ]},
   {"width":198,"height":194,"resolve":{"axis":{"x":"independent","y":"independent"}},"layer":[
    {"data":{"values":[{}]},"mark":{"type":"rect","fill":"#bebebe","stroke":"black","strokeWidth":1},"encoding":{"y":{"datum":70,"type":"quantitative","scale":{"domain":[0,87.05],"nice":false,"zero":false},"axis":null},"y2":{"datum":87.05}}},
    {"data":{"values":[{}]},"mark":{"type":"text","font":"Liberation Sans","fontSize":30,"color":"black"},"encoding":{"y":{"datum":78.5,"type":"quantitative","scale":{"domain":[0,87.05],"nice":false,"zero":false},"axis":null},"text":{"value":"55"}}},
    {"data":{"values":[{}]},"mark":{"type":"rule","color":"black","strokeWidth":2,"strokeDash":[10,6]},"encoding":{"x":{"datum":{"year":2009,"month":10,"date":5},"type":"temporal","scale":{"domain":[{"year":2009,"month":8,"date":26,"hours":10},{"year":2009,"month":11,"date":21,"hours":11}]},"axis":null},"y":{"datum":0,"type":"quantitative","scale":{"domain":[0,87.05],"nice":false,"zero":false},"axis":null},"y2":{"datum":70}}},
    {"transform":[{"filter":"datum.id == 55"}],"mark":{"type":"line","color":"black","strokeWidth":2},"encoding":{"x":{"field":"t","type":"temporal","scale":{"domain":[{"year":2009,"month":8,"date":26,"hours":10},{"year":2009,"month":11,"date":21,"hours":11}]},"axis":null},"y":{"field":"v","type":"quantitative","scale":{"domain":[0,87.05],"nice":false,"zero":false},"axis":null}}}
   ]},
   {"width":198,"height":194,"resolve":{"axis":{"x":"independent","y":"independent"}},"layer":[
    {"data":{"values":[{}]},"mark":{"type":"rect","fill":"#bebebe","stroke":"black","strokeWidth":1},"encoding":{"y":{"datum":70,"type":"quantitative","scale":{"domain":[0,87.05],"nice":false,"zero":false},"axis":null},"y2":{"datum":87.05}}},
    {"data":{"values":[{}]},"mark":{"type":"text","font":"Liberation Sans","fontSize":30,"color":"black"},"encoding":{"y":{"datum":78.5,"type":"quantitative","scale":{"domain":[0,87.05],"nice":false,"zero":false},"axis":null},"text":{"value":"57"}}},
    {"data":{"values":[{}]},"mark":{"type":"rule","color":"black","strokeWidth":2,"strokeDash":[10,6]},"encoding":{"x":{"datum":{"year":2009,"month":10,"date":5},"type":"temporal","scale":{"domain":[{"year":2009,"month":8,"date":26,"hours":10},{"year":2009,"month":11,"date":21,"hours":11}]},"axis":null},"y":{"datum":0,"type":"quantitative","scale":{"domain":[0,87.05],"nice":false,"zero":false},"axis":null},"y2":{"datum":70}}},
    {"transform":[{"filter":"datum.id == 57"}],"mark":{"type":"line","color":"black","strokeWidth":2},"encoding":{"x":{"field":"t","type":"temporal","scale":{"domain":[{"year":2009,"month":8,"date":26,"hours":10},{"year":2009,"month":11,"date":21,"hours":11}]},"axis":null},"y":{"field":"v","type":"quantitative","scale":{"domain":[0,87.05],"nice":false,"zero":false},"axis":null}}}
   ]},
   {"width":198,"height":194,"resolve":{"axis":{"x":"independent","y":"independent"}},"layer":[
    {"data":{"values":[{}]},"mark":{"type":"rect","fill":"#bebebe","stroke":"black","strokeWidth":1},"encoding":{"y":{"datum":70,"type":"quantitative","scale":{"domain":[0,87.05],"nice":false,"zero":false},"axis":null},"y2":{"datum":87.05}}},
    {"data":{"values":[{}]},"mark":{"type":"text","font":"Liberation Sans","fontSize":30,"color":"black"},"encoding":{"y":{"datum":78.5,"type":"quantitative","scale":{"domain":[0,87.05],"nice":false,"zero":false},"axis":null},"text":{"value":"62"}}},
    {"data":{"values":[{}]},"mark":{"type":"rule","color":"black","strokeWidth":2,"strokeDash":[10,6]},"encoding":{"x":{"datum":{"year":2009,"month":10,"date":5},"type":"temporal","scale":{"domain":[{"year":2009,"month":8,"date":26,"hours":10},{"year":2009,"month":11,"date":21,"hours":11}]},"axis":null},"y":{"datum":0,"type":"quantitative","scale":{"domain":[0,87.05],"nice":false,"zero":false},"axis":null},"y2":{"datum":70}}},
    {"transform":[{"filter":"datum.id == 62"}],"mark":{"type":"line","color":"black","strokeWidth":2},"encoding":{"x":{"field":"t","type":"temporal","scale":{"domain":[{"year":2009,"month":8,"date":26,"hours":10},{"year":2009,"month":11,"date":21,"hours":11}]},"axis":null},"y":{"field":"v","type":"quantitative","scale":{"domain":[0,87.05],"nice":false,"zero":false},"axis":{"orient":"right","labels":false,"title":null,"values":[0,10,20,30,40,50,60,70]}}}}
   ]},
   {"width":198,"height":194,"resolve":{"axis":{"x":"independent","y":"independent"}},"layer":[
    {"data":{"values":[{}]},"mark":{"type":"rect","fill":"#bebebe","stroke":"black","strokeWidth":1},"encoding":{"y":{"datum":70,"type":"quantitative","scale":{"domain":[0,87.05],"nice":false,"zero":false},"axis":null},"y2":{"datum":87.05}}},
    {"data":{"values":[{}]},"mark":{"type":"text","font":"Liberation Sans","fontSize":30,"color":"black"},"encoding":{"y":{"datum":78.5,"type":"quantitative","scale":{"domain":[0,87.05],"nice":false,"zero":false},"axis":null},"text":{"value":"63"}}},
    {"data":{"values":[{}]},"mark":{"type":"rule","color":"black","strokeWidth":2,"strokeDash":[10,6]},"encoding":{"x":{"datum":{"year":2009,"month":10,"date":5},"type":"temporal","scale":{"domain":[{"year":2009,"month":8,"date":26,"hours":10},{"year":2009,"month":11,"date":21,"hours":11}]},"axis":null},"y":{"datum":0,"type":"quantitative","scale":{"domain":[0,87.05],"nice":false,"zero":false},"axis":null},"y2":{"datum":70}}},
    {"transform":[{"filter":"datum.id == 63"}],"mark":{"type":"line","color":"black","strokeWidth":2},"encoding":{"x":{"field":"t","type":"temporal","scale":{"domain":[{"year":2009,"month":8,"date":26,"hours":10},{"year":2009,"month":11,"date":21,"hours":11}]},"axis":{"orient":"bottom","labelAngle":-90,"labelPadding":13,"format":"%d.%m","title":null,"values":[{"year":2009,"month":9,"date":15},{"year":2009,"month":10,"date":1},{"year":2009,"month":10,"date":15},{"year":2009,"month":11,"date":1}]}},"y":{"field":"v","type":"quantitative","scale":{"domain":[0,87.05],"nice":false,"zero":false},"axis":{"orient":"left","labels":false,"title":null,"values":[0,10,20,30,40,50,60,70]}}}}
   ]},
   {"width":198,"height":194,"resolve":{"axis":{"x":"independent","y":"independent"}},"layer":[
    {"data":{"values":[{}]},"mark":{"type":"rect","fill":"#bebebe","stroke":"black","strokeWidth":1},"encoding":{"y":{"datum":70,"type":"quantitative","scale":{"domain":[0,87.05],"nice":false,"zero":false},"axis":null},"y2":{"datum":87.05}}},
    {"data":{"values":[{}]},"mark":{"type":"text","font":"Liberation Sans","fontSize":30,"color":"black"},"encoding":{"y":{"datum":78.5,"type":"quantitative","scale":{"domain":[0,87.05],"nice":false,"zero":false},"axis":null},"text":{"value":"66"}}},
    {"data":{"values":[{}]},"mark":{"type":"rule","color":"black","strokeWidth":2,"strokeDash":[10,6]},"encoding":{"x":{"datum":{"year":2009,"month":10,"date":5},"type":"temporal","scale":{"domain":[{"year":2009,"month":8,"date":26,"hours":10},{"year":2009,"month":11,"date":21,"hours":11}]},"axis":null},"y":{"datum":0,"type":"quantitative","scale":{"domain":[0,87.05],"nice":false,"zero":false},"axis":null},"y2":{"datum":70}}},
    {"transform":[{"filter":"datum.id == 66"}],"mark":{"type":"line","color":"black","strokeWidth":2},"encoding":{"x":{"field":"t","type":"temporal","scale":{"domain":[{"year":2009,"month":8,"date":26,"hours":10},{"year":2009,"month":11,"date":21,"hours":11}]},"axis":{"orient":"bottom","labels":false,"title":null,"values":[{"year":2009,"month":9,"date":15},{"year":2009,"month":10,"date":1},{"year":2009,"month":10,"date":15},{"year":2009,"month":11,"date":1}]}},"y":{"field":"v","type":"quantitative","scale":{"domain":[0,87.05],"nice":false,"zero":false},"axis":null}}}
   ]},
   {"width":198,"height":194,"resolve":{"axis":{"x":"independent","y":"independent"}},"layer":[
    {"data":{"values":[{}]},"mark":{"type":"rect","fill":"#bebebe","stroke":"black","strokeWidth":1},"encoding":{"y":{"datum":70,"type":"quantitative","scale":{"domain":[0,87.05],"nice":false,"zero":false},"axis":null},"y2":{"datum":87.05}}},
    {"data":{"values":[{}]},"mark":{"type":"text","font":"Liberation Sans","fontSize":30,"color":"black"},"encoding":{"y":{"datum":78.5,"type":"quantitative","scale":{"domain":[0,87.05],"nice":false,"zero":false},"axis":null},"text":{"value":"72"}}},
    {"data":{"values":[{}]},"mark":{"type":"rule","color":"black","strokeWidth":2,"strokeDash":[10,6]},"encoding":{"x":{"datum":{"year":2009,"month":10,"date":5},"type":"temporal","scale":{"domain":[{"year":2009,"month":8,"date":26,"hours":10},{"year":2009,"month":11,"date":21,"hours":11}]},"axis":null},"y":{"datum":0,"type":"quantitative","scale":{"domain":[0,87.05],"nice":false,"zero":false},"axis":null},"y2":{"datum":70}}},
    {"transform":[{"filter":"datum.id == 72"}],"mark":{"type":"line","color":"black","strokeWidth":2},"encoding":{"x":{"field":"t","type":"temporal","scale":{"domain":[{"year":2009,"month":8,"date":26,"hours":10},{"year":2009,"month":11,"date":21,"hours":11}]},"axis":{"orient":"bottom","labelAngle":-90,"labelPadding":13,"format":"%d.%m","title":null,"values":[{"year":2009,"month":9,"date":15},{"year":2009,"month":10,"date":1},{"year":2009,"month":10,"date":15},{"year":2009,"month":11,"date":1}]}},"y":{"field":"v","type":"quantitative","scale":{"domain":[0,87.05],"nice":false,"zero":false},"axis":null}}}
   ]},
   {"width":198,"height":194,"resolve":{"axis":{"x":"independent","y":"independent"}},"layer":[
    {"data":{"values":[{}]},"mark":{"type":"rect","fill":"#bebebe","stroke":"black","strokeWidth":1},"encoding":{"y":{"datum":70,"type":"quantitative","scale":{"domain":[0,87.05],"nice":false,"zero":false},"axis":null},"y2":{"datum":87.05}}},
    {"data":{"values":[{}]},"mark":{"type":"text","font":"Liberation Sans","fontSize":30,"color":"black"},"encoding":{"y":{"datum":78.5,"type":"quantitative","scale":{"domain":[0,87.05],"nice":false,"zero":false},"axis":null},"text":{"value":"107"}}},
    {"data":{"values":[{}]},"mark":{"type":"rule","color":"black","strokeWidth":2,"strokeDash":[10,6]},"encoding":{"x":{"datum":{"year":2009,"month":10,"date":5},"type":"temporal","scale":{"domain":[{"year":2009,"month":8,"date":26,"hours":10},{"year":2009,"month":11,"date":21,"hours":11}]},"axis":null},"y":{"datum":0,"type":"quantitative","scale":{"domain":[0,87.05],"nice":false,"zero":false},"axis":null},"y2":{"datum":70}}},
    {"transform":[{"filter":"datum.id == 107"}],"mark":{"type":"line","color":"black","strokeWidth":2},"encoding":{"x":{"field":"t","type":"temporal","scale":{"domain":[{"year":2009,"month":8,"date":26,"hours":10},{"year":2009,"month":11,"date":21,"hours":11}]},"axis":{"orient":"bottom","labels":false,"title":null,"values":[{"year":2009,"month":9,"date":15},{"year":2009,"month":10,"date":1},{"year":2009,"month":10,"date":15},{"year":2009,"month":11,"date":1}]}},"y":{"field":"v","type":"quantitative","scale":{"domain":[0,87.05],"nice":false,"zero":false},"axis":{"orient":"right","title":null,"values":[0,10,20,30,40,50,60,70],"labelExpr":"datum.value == 10 || datum.value == 30 || datum.value == 50 ? datum.label : ''"}}}}
   ]}
  ]
 }]
}],
"config": {
 "view": {"stroke": "black", "strokeWidth": 1},
 "axis": {"domain": false, "grid": false, "ticks": true, "tickColor": "black", "tickSize": 12, "tickWidth": 1, "labelFont": "Liberation Sans", "labelFontSize": 29, "labelColor": "black", "labelPadding": 12, "labelOverlap": false, "labelFlush": false, "labelBound": false},
 "concat": {"spacing": 0}
}
}
